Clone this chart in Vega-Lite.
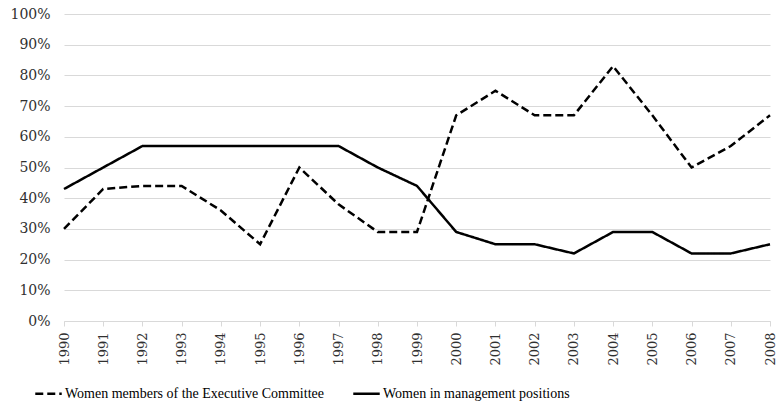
{
  "$schema": "https://vega.github.io/schema/vega-lite/v6.json",
  "width": 706,
  "height": 307,
  "autosize": {"type": "none"},
  "padding": {"left": 64, "top": 14, "right": 9, "bottom": 83},
  "background": "white",
  "config": {
    "view": {"stroke": null},
    "font": "DejaVu Serif"
  },
  "data": {
    "values": [
      {"year": "1990", "series": "Women members of the Executive Committee", "value": 0.30},
      {"year": "1991", "series": "Women members of the Executive Committee", "value": 0.43},
      {"year": "1992", "series": "Women members of the Executive Committee", "value": 0.44},
      {"year": "1993", "series": "Women members of the Executive Committee", "value": 0.44},
      {"year": "1994", "series": "Women members of the Executive Committee", "value": 0.36},
      {"year": "1995", "series": "Women members of the Executive Committee", "value": 0.25},
      {"year": "1996", "series": "Women members of the Executive Committee", "value": 0.50},
      {"year": "1997", "series": "Women members of the Executive Committee", "value": 0.38},
      {"year": "1998", "series": "Women members of the Executive Committee", "value": 0.29},
      {"year": "1999", "series": "Women members of the Executive Committee", "value": 0.29},
      {"year": "2000", "series": "Women members of the Executive Committee", "value": 0.67},
      {"year": "2001", "series": "Women members of the Executive Committee", "value": 0.75},
      {"year": "2002", "series": "Women members of the Executive Committee", "value": 0.67},
      {"year": "2003", "series": "Women members of the Executive Committee", "value": 0.67},
      {"year": "2004", "series": "Women members of the Executive Committee", "value": 0.83},
      {"year": "2005", "series": "Women members of the Executive Committee", "value": 0.67},
      {"year": "2006", "series": "Women members of the Executive Committee", "value": 0.50},
      {"year": "2007", "series": "Women members of the Executive Committee", "value": 0.57},
      {"year": "2008", "series": "Women members of the Executive Committee", "value": 0.67},
      {"year": "1990", "series": "Women in management positions", "value": 0.43},
      {"year": "1991", "series": "Women in management positions", "value": 0.50},
      {"year": "1992", "series": "Women in management positions", "value": 0.57},
      {"year": "1993", "series": "Women in management positions", "value": 0.57},
      {"year": "1994", "series": "Women in management positions", "value": 0.57},
      {"year": "1995", "series": "Women in management positions", "value": 0.57},
      {"year": "1996", "series": "Women in management positions", "value": 0.57},
      {"year": "1997", "series": "Women in management positions", "value": 0.57},
      {"year": "1998", "series": "Women in management positions", "value": 0.50},
      {"year": "1999", "series": "Women in management positions", "value": 0.44},
      {"year": "2000", "series": "Women in management positions", "value": 0.29},
      {"year": "2001", "series": "Women in management positions", "value": 0.25},
      {"year": "2002", "series": "Women in management positions", "value": 0.25},
      {"year": "2003", "series": "Women in management positions", "value": 0.22},
      {"year": "2004", "series": "Women in management positions", "value": 0.29},
      {"year": "2005", "series": "Women in management positions", "value": 0.29},
      {"year": "2006", "series": "Women in management positions", "value": 0.22},
      {"year": "2007", "series": "Women in management positions", "value": 0.22},
      {"year": "2008", "series": "Women in management positions", "value": 0.25}
    ]
  },
  "mark": {"type": "line", "color": "black", "strokeWidth": 2.5},
  "encoding": {
    "x": {
      "field": "year",
      "type": "ordinal",
      "scale": {"type": "point", "padding": 0},
      "axis": {
        "title": null,
        "labelAngle": -90,
        "labelAlign": "right",
        "labelBaseline": "middle",
        "labelFont": "DejaVu Serif",
        "labelFontSize": 13,
        "labelColor": "#303030",
        "labelPadding": 6,
        "domainColor": "#d9d9d9",
        "domainWidth": 1,
        "tickColor": "#d9d9d9",
        "tickSize": 5,
        "grid": false
      }
    },
    "y": {
      "field": "value",
      "type": "quantitative",
      "scale": {"domain": [0, 1], "nice": false},
      "axis": {
        "title": null,
        "values": [0, 0.1, 0.2, 0.3, 0.4, 0.5, 0.6, 0.7, 0.8, 0.9, 1],
        "format": ".0%",
        "domain": false,
        "ticks": false,
        "labelFont": "DejaVu Serif",
        "labelFontSize": 14,
        "labelColor": "#303030",
        "labelPadding": 14,
        "gridColor": "#d9d9d9",
        "gridWidth": 1
      }
    },
    "strokeDash": {
      "field": "series",
      "type": "nominal",
      "scale": {
        "domain": ["Women members of the Executive Committee", "Women in management positions"],
        "range": [[8, 4], [1, 0]]
      },
      "legend": {
        "title": null,
        "orient": "none",
        "direction": "horizontal",
        "legendX": -30,
        "legendY": 365,
        "symbolType": "stroke",
        "symbolStrokeColor": "black",
        "symbolStrokeWidth": 2.5,
        "symbolSize": 700,
        "labelFont": "Liberation Serif",
        "labelFontSize": 14,
        "labelColor": "#000000",
        "labelOffset": 2,
        "columnPadding": 24,
        "labelLimit": 400
      }
    }
  }
}
